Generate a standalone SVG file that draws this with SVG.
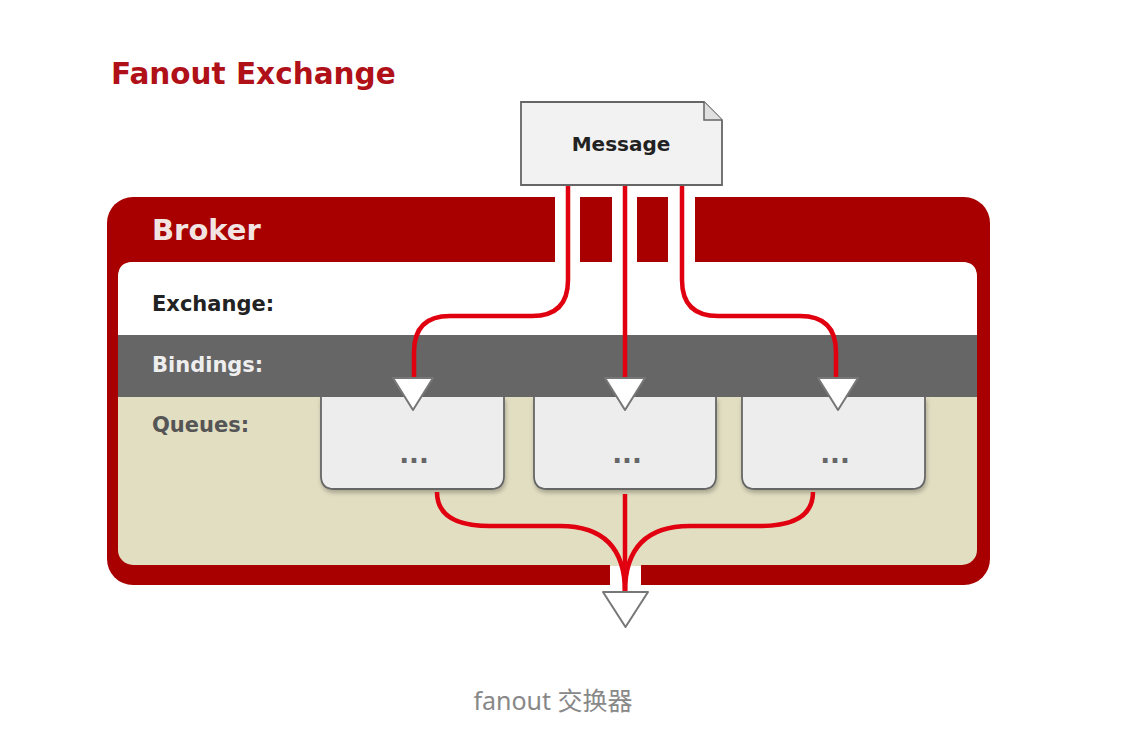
<svg xmlns="http://www.w3.org/2000/svg" width="1130" height="746" viewBox="0 0 1130 746">
<defs>
<style>
.lbl{font-family:"DejaVu Sans","Liberation Sans",Arial,sans-serif;font-weight:bold}
.flow{fill:none;stroke:#e0000f;stroke-width:4.5;stroke-linecap:butt}
.tri{fill:#ffffff;stroke:#777777;stroke-width:2;stroke-linejoin:round}
.queue{fill:#ededee;stroke:#666666;stroke-width:1.8}
.dots{font-family:"DejaVu Sans","Liberation Sans",Arial,sans-serif;font-weight:bold;font-size:26px;fill:#666666;text-anchor:middle}
</style>
<filter id="sh" x="-10%" y="-10%" width="130%" height="140%">
<feDropShadow dx="1" dy="3" stdDeviation="2" flood-color="#000" flood-opacity="0.25"/>
</filter>
</defs>
<rect width="1130" height="746" fill="#ffffff"/>
<text class="lbl" x="111" y="84" font-size="29.5" fill="#b01018">Fanout Exchange</text>

<g id="broker">
<rect x="107" y="197" width="883" height="388" rx="26" fill="#a80000"/>
<rect x="118" y="262" width="859" height="303" rx="15" fill="#e2dec2"/>
<path d="M118 335 V277 Q118 262 133 262 H962 Q977 262 977 277 V335 Z" fill="#ffffff"/>
<rect x="118" y="335" width="859" height="62" fill="#666666"/>
<rect x="555" y="190" width="25" height="73" fill="#ffffff"/>
<rect x="612" y="190" width="25" height="73" fill="#ffffff"/>
<rect x="668" y="190" width="27" height="73" fill="#ffffff"/>
<rect x="610" y="564" width="31" height="23" fill="#ffffff"/>
<rect x="610" y="564" width="31" height="2" fill="#e2dec2"/>
<text class="lbl" x="152" y="240" font-size="29" fill="#f3e4e4">Broker</text>
<text class="lbl" x="152" y="311" font-size="21" fill="#222222">Exchange:</text>
<text class="lbl" x="152" y="372" font-size="21" fill="#eeeeee">Bindings:</text>
<text class="lbl" x="152" y="432" font-size="21" fill="#555555">Queues:</text>
</g>

<g id="queue1">
<path class="queue" filter="url(#sh)" d="M321 397 V476 Q321 489 334 489 H491 Q504 489 504 476 V397"/>
<text class="dots" x="414" y="463">...</text>
</g>
<g id="queue2">
<path class="queue" filter="url(#sh)" d="M534 397 V476 Q534 489 547 489 H703 Q716 489 716 476 V397"/>
<text class="dots" x="627" y="463">...</text>
</g>
<g id="queue3">
<path class="queue" filter="url(#sh)" d="M742 397 V476 Q742 489 755 489 H912 Q925 489 925 476 V397"/>
<text class="dots" x="835" y="463">...</text>
</g>

<g id="message">
<path d="M521 102 H704 L722 120 V185 H521 Z" fill="#f2f2f2" stroke="#666666" stroke-width="1.8"/>
<path d="M704 102 V120 H722" fill="#e0e0e0" stroke="#666666" stroke-width="1.5"/>
<text class="lbl" x="621" y="151" font-size="20" fill="#222222" text-anchor="middle">Message</text>
</g>

<g id="connectors">
<path class="flow" d="M568 186 V280 Q568 316 532 316 H450 Q414 316 414 352 V380"/>
<path class="flow" d="M625 186 V380"/>
<path class="flow" d="M682 186 V280 Q682 316 718 316 H800 Q836 316 836 352 V380"/>
<path class="flow" d="M437 492 Q437 526 490 526 H560 Q625 526 625 592"/>
<path class="flow" d="M625 494 V592"/>
<path class="flow" d="M813 492 Q813 526 760 526 H690 Q625 526 625 592"/>
<path class="tri" d="M393 378 H433 L413 410 Z"/>
<path class="tri" d="M605 378 H645 L625 410 Z"/>
<path class="tri" d="M818 378 H858 L838 410 Z"/>
<path class="tri" d="M603 592 H648 L625.5 627 Z"/>
</g>

<text x="553" y="710" font-family="'Noto Sans','Noto Sans CJK SC',sans-serif" font-size="25" fill="#888888" text-anchor="middle">fanout 交换器</text>
</svg>
